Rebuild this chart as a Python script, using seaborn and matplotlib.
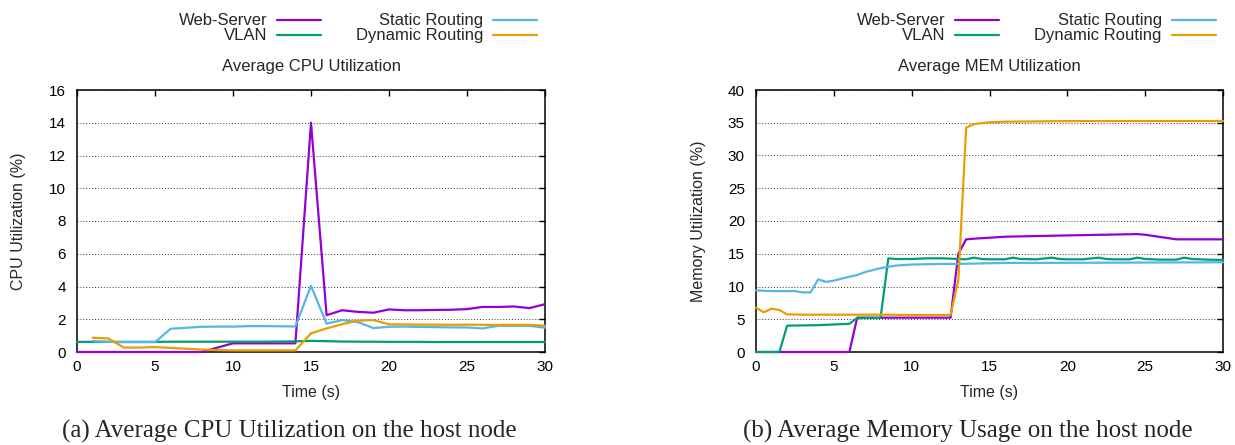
import numpy as np
import pandas as pd
import matplotlib
matplotlib.use("Agg")
import matplotlib.pyplot as plt
import seaborn as sns

# ---------------- data ----------------
series_names = ["Web-Server", "VLAN", "Static Routing", "Dynamic Routing"]
series_colors = ["#9400D3", "#009E73", "#56B4E9", "#E69F00"]

# CPU (left panel)
cpu_web_t = list(range(0, 31))
cpu_web_v = [0, 0, 0, 0, 0, 0, 0, 0, 0.0, 0.27, 0.53, 0.53, 0.53, 0.53, 0.53,
             14.0, 2.25, 2.55, 2.45, 2.4, 2.6, 2.55, 2.55, 2.57, 2.58, 2.62,
             2.75, 2.75, 2.78, 2.68, 2.92]
cpu_vlan_t = list(range(0, 31))
cpu_vlan_v = [0.62, 0.62, 0.62, 0.62, 0.62, 0.62, 0.63, 0.63, 0.63, 0.63, 0.63,
              0.63, 0.63, 0.64, 0.65, 0.68, 0.66, 0.64, 0.63, 0.63, 0.62, 0.62,
              0.62, 0.61, 0.61, 0.61, 0.61, 0.61, 0.61, 0.61, 0.61]
cpu_static_t = list(range(1, 31))
cpu_static_v = [0.67, 0.62, 0.6, 0.6, 0.6, 1.42, 1.48, 1.54, 1.55, 1.55, 1.58,
                1.58, 1.57, 1.56, 4.04, 1.73, 1.95, 1.83, 1.46, 1.54, 1.55,
                1.53, 1.52, 1.5, 1.5, 1.44, 1.6, 1.6, 1.6, 1.48]
cpu_dyn_t = list(range(1, 31))
cpu_dyn_v = [0.87, 0.83, 0.27, 0.27, 0.3, 0.25, 0.2, 0.15, 0.12, 0.1, 0.1, 0.1,
             0.1, 0.1, 1.14, 1.44, 1.7, 1.91, 1.95, 1.69, 1.68, 1.67, 1.67,
             1.66, 1.67, 1.66, 1.65, 1.66, 1.66, 1.6]

# Memory (right panel)
mem_web_t = [0, 6.0, 6.5, 12.5, 13.0, 13.5, 14, 16, 20, 24.5, 25, 27, 30]
mem_web_v = [0, 0, 5.24, 5.24, 15.0, 17.2, 17.3, 17.6, 17.8, 18.0, 17.9, 17.2, 17.2]
mem_vlan_t = [0, 1.5, 2.0, 4, 6.0, 6.5, 8.0, 8.5, 9, 10, 11, 12, 13, 13.5, 14,
              14.5, 15, 16, 16.5, 17, 18, 19, 19.5, 20, 21, 22, 22.5, 23, 24,
              24.5, 25, 26, 27, 27.5, 28, 29, 30]
mem_vlan_v = [0, 0, 4.02, 4.1, 4.3, 5.2, 5.2, 14.3, 14.2, 14.2, 14.3, 14.3, 14.2,
              14.15, 14.4, 14.2, 14.15, 14.15, 14.4, 14.2, 14.15, 14.4, 14.2,
              14.15, 14.15, 14.4, 14.2, 14.15, 14.15, 14.4, 14.2, 14.1, 14.1,
              14.4, 14.2, 14.1, 14.05]
mem_static_t = [0, 1, 2, 2.5, 3, 3.5, 4, 4.5, 5, 5.5, 6, 6.5, 7, 7.5, 8, 8.5, 9,
                10, 11, 12, 13, 14, 15, 16, 18, 20, 22, 24, 26, 28, 30]
mem_static_v = [9.4, 9.3, 9.3, 9.3, 9.1, 9.1, 11.1, 10.7, 10.9, 11.2, 11.5,
                11.75, 12.2, 12.5, 12.8, 13.0, 13.2, 13.35, 13.4, 13.45, 13.45,
                13.5, 13.55, 13.6, 13.6, 13.62, 13.63, 13.65, 13.67, 13.68, 13.7]
mem_dyn_t = [0, 0.5, 1.0, 1.5, 2.0, 3, 5, 8, 10, 12.5, 13.0, 13.5, 14, 15, 16,
             20, 25, 30]
mem_dyn_v = [6.77, 6.06, 6.62, 6.41, 5.75, 5.7, 5.7, 5.7, 5.65, 5.65, 11.0,
             34.25, 34.8, 35.07, 35.16, 35.25, 35.27, 35.27]

cpu_xticks = [0, 5, 10, 15, 20, 25, 30]
cpu_yticks = [0, 2, 4, 6, 8, 10, 12, 14, 16]
mem_xticks = [0, 5, 10, 15, 20, 25, 30]
mem_yticks = [0, 5, 10, 15, 20, 25, 30, 35, 40]


def long_frame(pairs):
    frames = []
    for name, (t, v) in zip(series_names, pairs):
        frames.append(pd.DataFrame({"t": t, "v": v, "series": name}))
    return pd.concat(frames, ignore_index=True)


cpu_df = long_frame([(cpu_web_t, cpu_web_v), (cpu_vlan_t, cpu_vlan_v),
                     (cpu_static_t, cpu_static_v), (cpu_dyn_t, cpu_dyn_v)])
mem_df = long_frame([(mem_web_t, mem_web_v), (mem_vlan_t, mem_vlan_v),
                     (mem_static_t, mem_static_v), (mem_dyn_t, mem_dyn_v)])

# ---------------- style ----------------
sns.set_theme(style="white")
plt.rcParams["font.family"] = ["Liberation Sans", "DejaVu Sans"]
plt.rcParams["axes.edgecolor"] = "black"
plt.rcParams["axes.linewidth"] = 1.1

fig = plt.figure(figsize=(12.35, 4.45), dpi=100)
ax1 = fig.add_axes([77 / 1235, 93 / 445, 468 / 1235, 262 / 445])
ax2 = fig.add_axes([756 / 1235, 93 / 445, 467 / 1235, 262 / 445])

panels = [
    (ax1, cpu_df, cpu_xticks, cpu_yticks, "CPU Utilization (%)", "Average CPU Utilization"),
    (ax2, mem_df, mem_xticks, mem_yticks, "Memory Utilization (%)", "Average MEM Utilization"),
]

for ax, df, xt, yt, ylab, title in panels:
    sns.lineplot(data=df, x="t", y="v", hue="series", hue_order=series_names,
                 palette=series_colors, estimator=None, sort=False,
                 linewidth=1.6, legend=False, ax=ax, clip_on=False, zorder=3)
    ax.set_xlim(xt[0], xt[-1])
    ax.set_ylim(yt[0], yt[-1])
    ax.set_xticks(xt)
    ax.set_yticks(yt)
    ax.tick_params(axis="both", direction="in", length=4, width=1,
                   top=True, right=True, labelsize=11, colors="black")
    ax.tick_params(axis="x", pad=5.5)
    ax.tick_params(axis="y", pad=8)
    ax.yaxis.grid(True, linestyle=(0, (1, 2)), color="#333333", linewidth=0.7)
    ax.xaxis.grid(False)
    ax.set_axisbelow(True)
    ax.set_xlabel("Time (s)", fontsize=11.5)
    ax.set_ylabel(ylab, fontsize=11.5)
    ax.xaxis.set_label_coords(0.5, -0.125)
    ax.yaxis.set_label_coords(-0.108, 0.5)
    ax.set_title(title, fontsize=12, pad=14)
    for s in ax.spines.values():
        s.set_color("black")
        s.set_linewidth(1.1)
    ax.legend(handles=ax.lines[:4], labels=series_names, loc="center",
              bbox_to_anchor=(0.6, 1.235), ncol=2, markerfirst=False,
              frameon=False, fontsize=12, handlelength=2.63,
              handletextpad=0.6, columnspacing=2.1, labelspacing=0.0,
              borderpad=0, borderaxespad=0)

fig.text(289 / 1235, 7 / 445, "(a) Average CPU Utilization on the host node",
         ha="center", va="baseline", family=["Liberation Serif", "DejaVu Serif"],
         fontsize=18)
fig.text(968 / 1235, 7 / 445, "(b) Average Memory Usage on the host node",
         ha="center", va="baseline", family=["Liberation Serif", "DejaVu Serif"],
         fontsize=18)

fig.savefig("out.png", dpi=100)
